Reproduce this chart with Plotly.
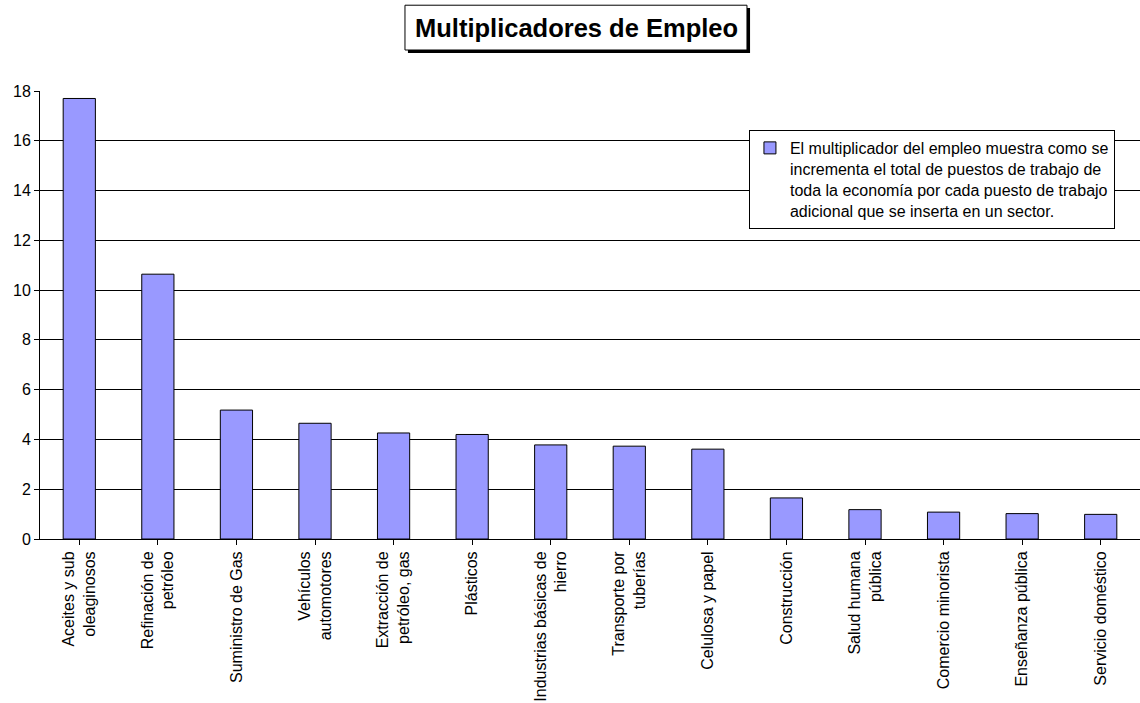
import plotly.graph_objects as go

categorias = [
    "Aceites y sub<br>oleaginosos",
    "Refinación de<br>petróleo",
    "Suministro de Gas",
    "Vehículos<br>automotores",
    "Extracción de<br>petróleo, gas",
    "Plásticos",
    "Industrias básicas de<br>hierro",
    "Transporte por<br>tuberías",
    "Celulosa y papel",
    "Construcción",
    "Salud humana<br>pública",
    "Comercio minorista",
    "Enseñanza pública",
    "Servicio doméstico",
]
multiplicadores = [17.7, 10.64, 5.18, 4.65, 4.26, 4.2, 3.78, 3.73, 3.61, 1.65, 1.18, 1.08, 1.02, 0.99]
leyenda = ("El multiplicador del empleo muestra como se<br>"
           "incrementa el total de puestos de trabajo de<br>"
           "toda la economía por cada puesto de trabajo<br>"
           "adicional que se inserta en un sector.")
titulo = "Multiplicadores de Empleo"
y_ticks = [0, 2, 4, 6, 8, 10, 12, 14, 16, 18]

FONT = "Liberation Sans, Arial, sans-serif"

fig = go.Figure()
fig.add_trace(go.Bar(
    x=list(range(len(categorias))),
    y=multiplicadores,
    name=leyenda,
    marker=dict(color="#9999FF", line=dict(color="black", width=1)),
    showlegend=True,
))

fig.update_layout(
    width=1140, height=703,
    margin=dict(l=40, r=0, t=91, b=164),
    paper_bgcolor="white", plot_bgcolor="white",
    font=dict(family=FONT, color="black", size=16),
    bargap=0.59,
    showlegend=True,
    legend=dict(
        x=0.6445, y=0.913, xanchor="left", yanchor="top",
        bgcolor="white", bordercolor="black", borderwidth=1,
        font=dict(size=16, family=FONT), valign="top",
        itemwidth=30, tracegroupgap=0,
    ),
    xaxis=dict(
        tickmode="array", tickvals=list(range(len(categorias))), ticktext=categorias,
        range=[-0.5, len(categorias) - 0.5],
        tickangle=-90, tickson="boundaries", ticks="outside", ticklen=5,
        tickcolor="black", showline=True, linecolor="black", linewidth=1,
        showgrid=False, tickfont=dict(size=16, family=FONT),
    ),
    yaxis=dict(
        range=[0, 18], tickvals=y_ticks, ticks="outside", ticklen=5,
        tickcolor="black", showline=True, linecolor="black", linewidth=1,
        showgrid=True, gridcolor="black", gridwidth=1,
        tickfont=dict(size=16, family=FONT), zeroline=False,
    ),
    shapes=[
        dict(type="rect", xref="paper", yref="paper",
             x0=0.3345, x1=0.6455, y0=1.085, y1=1.185,
             fillcolor="black", line=dict(width=0), layer="above"),
        dict(type="rect", xref="paper", yref="paper",
             x0=0.3318, x1=0.6427, y0=1.0915, y1=1.1915,
             fillcolor="white", line=dict(color="black", width=1), layer="above"),
    ],
    annotations=[
        dict(text="<b>" + titulo + "</b>", xref="paper", yref="paper",
             x=0.4873, y=1.1415, xanchor="center", yanchor="middle",
             showarrow=False, font=dict(size=25.5, family=FONT, color="black")),
    ],
)

fig.write_html("out.html")
